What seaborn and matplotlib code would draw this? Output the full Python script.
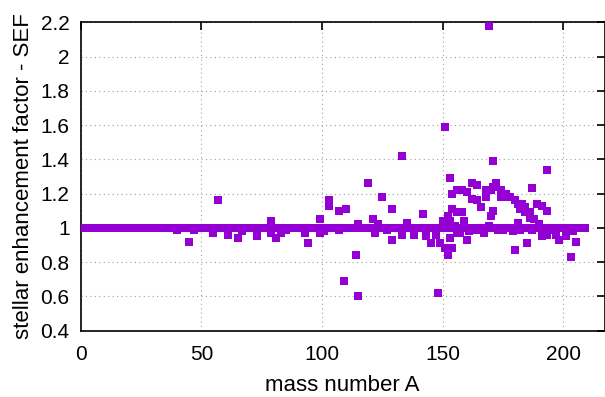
import seaborn as sns
import matplotlib.pyplot as plt
import pandas as pd
from matplotlib.ticker import FuncFormatter

# points sitting on the SEF = 1 line
base_mass = [1, 3, 5, 7, 9, 11, 13, 15, 17, 19, 21, 23, 25, 27, 29,
             31, 33, 35, 37, 39, 41, 43, 45, 47, 49, 51, 53, 55, 57, 59,
             61, 63, 65, 67, 69, 71, 73, 75, 77, 79, 81, 83, 85, 87, 89,
             91, 93, 95, 97, 99, 101, 103, 105, 107, 109, 111, 113, 115, 117, 119,
             121, 123, 125, 127, 129, 131, 133, 135, 137, 139, 141, 143, 145, 147, 149,
             151, 153, 155, 157, 159, 161, 163, 165, 167, 169, 171, 173, 175, 177, 179,
             181, 183, 185, 187, 189, 191, 193, 195, 197, 199, 201, 203, 205, 207, 209]
base_sef = [1.0, 1.0, 1.0, 1.0, 1.0, 1.0, 1.0, 1.0, 1.0, 1.0, 1.0, 1.0, 1.0, 1.0, 1.0,
            1.0, 1.0, 1.0, 1.0, 1.0, 1.0, 1.0, 1.0, 1.0, 1.0, 1.0, 1.0, 1.0, 1.0, 1.0,
            1.0, 1.0, 1.0, 1.0, 1.0, 1.0, 1.0, 1.0, 1.0, 1.0, 1.0, 1.0, 1.0, 1.0, 1.0,
            1.0, 1.0, 1.0, 1.0, 1.0, 1.0, 1.0, 1.0, 1.0, 1.0, 1.0, 1.0, 1.0, 1.0, 1.0,
            1.0, 1.0, 1.0, 1.0, 1.0, 1.0, 1.0, 1.0, 1.0, 1.0, 1.0, 1.0, 1.0, 1.0, 1.0,
            1.0, 1.0, 1.0, 1.0, 1.0, 1.0, 1.0, 1.0, 1.0, 1.0, 1.0, 1.0, 1.0, 1.0, 1.0,
            1.0, 1.0, 1.0, 1.0, 1.0, 1.0, 1.0, 1.0, 1.0, 1.0, 1.0, 1.0, 1.0, 1.0, 1.0]

# points away from 1
mass = [40, 45, 47, 55, 57, 61, 65, 67, 73, 79, 79, 81, 83, 85, 93, 94, 99, 99,
        101, 103, 103, 107, 107, 109, 110, 114, 115, 115, 119, 121, 122, 123, 125,
        127, 129, 129, 133, 133, 135, 138, 142, 143, 145, 147, 148, 149, 150, 151,
        151, 152, 152, 153, 153, 153, 154, 154, 154, 155, 156, 156, 156, 157, 157,
        158, 158, 159, 160, 160, 161, 162, 162, 163, 164, 164, 165, 166, 167, 168,
        168, 169, 169, 170, 170, 171, 171, 171, 172, 173, 174, 174, 175, 176, 176,
        177, 178, 179, 180, 180, 181, 181, 182, 182, 183, 184, 184, 185, 185, 186,
        186, 187, 187, 188, 189, 190, 191, 191, 192, 193, 193, 193, 194, 195, 196,
        197, 198, 199, 201, 203, 204, 205]
sef = [0.99, 0.92, 0.99, 0.97, 1.16, 0.96, 0.94, 0.98, 0.95, 1.04, 0.97, 0.94, 0.97, 0.99, 0.97, 0.91, 1.05, 0.97,
       0.98, 1.16, 1.13, 1.10, 0.99, 0.69, 1.11, 0.84, 0.60, 1.02, 1.26, 1.05, 0.97, 1.02, 1.18,
       0.99, 1.11, 0.93, 1.42, 0.96, 1.03, 0.96, 1.08, 0.95, 0.91, 0.96, 0.62, 0.91, 1.04, 1.59,
       0.88, 1.07, 0.84, 1.29, 1.04, 0.94, 1.20, 1.11, 0.88, 1.01, 1.22, 1.09, 0.97, 1.22, 0.97,
       1.22, 1.09, 1.04, 1.21, 0.93, 0.98, 1.26, 1.17, 0.99, 1.25, 1.16, 0.99, 1.12, 0.97, 1.22,
       1.18, 2.18, 1.01, 1.22, 1.07, 1.39, 1.10, 1.24, 1.26, 0.99, 1.22, 1.18, 0.99, 1.20, 1.18,
       1.0, 1.18, 0.98, 1.16, 0.87, 1.14, 1.03, 1.11, 0.99, 1.14, 1.12, 1.09, 0.91, 1.0, 1.09,
       1.06, 1.23, 0.99, 1.05, 1.14, 1.02, 1.13, 0.95, 1.0, 1.34, 1.10, 0.96, 0.99, 1.0, 0.99,
       0.96, 0.93, 1.0, 0.95, 0.83, 0.98, 0.92]

xticks = [0, 50, 100, 150, 200]
yticks = [0.4, 0.6, 0.8, 1.0, 1.2, 1.4, 1.6, 1.8, 2.0, 2.2]

df = pd.DataFrame({"A": base_mass + mass, "SEF": base_sef + sef})

sns.set_style("white")
plt.rcParams['font.family'] = ['Liberation Sans', 'DejaVu Sans']
plt.rcParams['text.color'] = 'black'
plt.rcParams['axes.labelcolor'] = 'black'

fig = plt.figure(figsize=(6.05, 3.97), dpi=100)
ax = fig.add_axes([80.7 / 605, 1 - 330.7 / 397, (604.5 - 80.7) / 605, (330.7 - 22.3) / 397])

sns.scatterplot(data=df, x="A", y="SEF", marker="s", s=27, color="#9400d3",
                linewidth=0, ax=ax, zorder=3)

ax.set_xlim(0, 217)
ax.set_ylim(0.4, 2.2)
ax.set_xticks(xticks)
ax.set_yticks(yticks)
ax.yaxis.set_major_formatter(FuncFormatter(lambda v, p: f"{v:g}"))
ax.grid(True, linestyle=(0, (1, 3)), color="#a0a0a0", linewidth=0.8)
ax.tick_params(direction="in", length=6, width=1.2, labelsize=15, colors="black",
               top=True, right=True)
ax.tick_params(axis="y", pad=8)
ax.tick_params(axis="x", pad=10)
for sp in ax.spines.values():
    sp.set_linewidth(1.2)
    sp.set_color("black")

ax.set_xlabel("mass number A", fontsize=16, labelpad=8)
ax.set_ylabel("stellar enhancement factor - SEF", fontsize=16, labelpad=5)

fig.savefig("out.png", dpi=100)
